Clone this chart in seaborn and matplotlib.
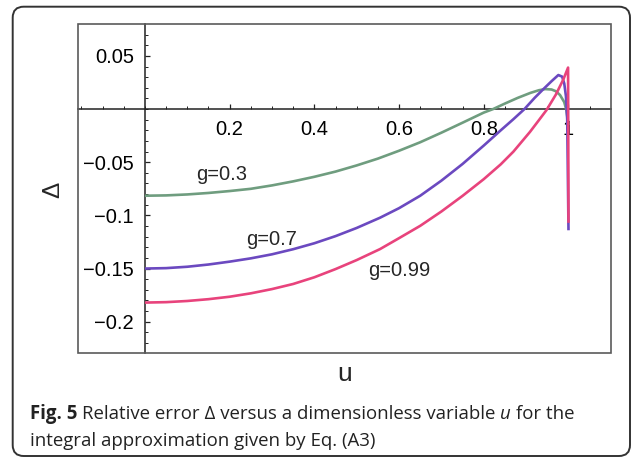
import numpy as np
import pandas as pd
import seaborn as sns
import matplotlib
matplotlib.use("Agg")
import matplotlib.pyplot as plt
from matplotlib.patches import Rectangle, FancyBboxPatch
from matplotlib.transforms import IdentityTransform
from matplotlib.ticker import FixedLocator

# ---------------- data ----------------
u_g03 = [0, 0.05, 0.1, 0.15, 0.2, 0.25, 0.3, 0.35, 0.4, 0.45, 0.5, 0.55, 0.6, 0.65,
         0.7, 0.75, 0.8, 0.822, 0.85, 0.88, 0.91, 0.93, 0.945, 0.96, 0.97, 0.98,
         0.99, 0.995, 1.0]
d_g03 = [-0.0815, -0.0812, -0.0803, -0.0789, -0.0771, -0.0750, -0.0718, -0.0680,
         -0.0637, -0.0588, -0.0530, -0.0466, -0.0392, -0.0312, -0.0222, -0.0128,
         -0.0033, 0.0, 0.0052, 0.0105, 0.0152, 0.0177, 0.0188, 0.0184, 0.0168,
         0.0132, 0.0065, -0.001, -0.015]

u_g07 = [0, 0.05, 0.1, 0.15, 0.2, 0.25, 0.3, 0.35, 0.4, 0.45, 0.5, 0.555, 0.6, 0.65,
         0.7, 0.75, 0.8, 0.84, 0.87, 0.896, 0.92, 0.94, 0.96, 0.976, 0.985, 0.99,
         0.994, 0.997, 1.0]
d_g07 = [-0.150, -0.1496, -0.1483, -0.1462, -0.1435, -0.1404, -0.1366, -0.1318,
         -0.1262, -0.1195, -0.1118, -0.1022, -0.0932, -0.0815, -0.0673, -0.0516,
         -0.0343, -0.0200, -0.0095, 0.0, 0.0105, 0.0185, 0.0262, 0.0320, 0.0305,
         0.0240, 0.0120, -0.010, -0.114]

u_g099 = [0, 0.05, 0.1, 0.15, 0.2, 0.25, 0.3, 0.35, 0.4, 0.45, 0.5, 0.555, 0.6, 0.65,
          0.7, 0.75, 0.8, 0.84, 0.87, 0.909, 0.93, 0.948, 0.97, 0.988, 0.999, 1.0]
d_g099 = [-0.182, -0.1816, -0.1805, -0.1788, -0.1765, -0.1733, -0.1693, -0.1645,
          -0.1582, -0.1505, -0.1420, -0.1317, -0.1214, -0.1098, -0.0963, -0.0816,
          -0.0659, -0.0520, -0.0400, -0.0215, -0.0105, -0.0010, 0.0135, 0.0280, 0.039,
          -0.107]

series_labels = ["g=0.3", "g=0.7", "g=0.99"]
label_pos_u = [0.18, 0.30, 0.60]
label_pos_d = [-0.0617, -0.1229, -0.1517]

x_major = [0.2, 0.4, 0.6, 0.8, 1.0]
x_major_labels = ["0.2", "0.4", "0.6", "0.8", "1"]
y_major = [0.05, -0.05, -0.1, -0.15, -0.2]
y_major_labels = ["0.05", "\u22120.05", "\u22120.1", "\u22120.15", "\u22120.2"]

caption_line1 = [("Fig. 5", "bold", "normal"),
                 (" Relative error \u0394 versus a dimensionless variable ", "normal", "normal"),
                 ("u", "normal", "italic"),
                 (" for the", "normal", "normal")]
caption_line2 = [("integral approximation given by Eq. (A3)", "normal", "normal")]

colors = ["#6f9d7f", "#6b49c0", "#e8437c"]

# ---------------- figure ----------------
sns.set_theme(style="white")
plt.rcParams["font.family"] = ["Liberation Sans", "DejaVu Sans"]

W, H = 637, 457
fig = plt.figure(figsize=(W / 100, H / 100), dpi=100)
fig.patch.set_facecolor("white")

# outer rounded caption box
box = FancyBboxPatch((12.7, H - 456.0), 630.0 - 12.7, 456.0 - 6.7,
                     boxstyle="round,pad=0,rounding_size=11",
                     transform=IdentityTransform(), facecolor="none",
                     edgecolor="#333333", linewidth=1.4, zorder=0)
fig.add_artist(box)

ax_l, ax_r, ax_t, ax_b = 78.0, 610.6, 24.0, 353.3
ax = fig.add_axes([ax_l / W, 1 - ax_b / H, (ax_r - ax_l) / W, (ax_b - ax_t) / H])
ax.set_facecolor("white")

frames = [(u_g03, d_g03), (u_g07, d_g07), (u_g099, d_g099)]
for (uu, dd), c in zip(frames, colors):
    df = pd.DataFrame({"u": uu, "d": dd})
    sns.lineplot(data=df, x="u", y="d", ax=ax, color=c, linewidth=1.9,
                 sort=False, estimator=None, zorder=3)
for line in ax.get_lines():
    line.set_solid_joinstyle("round")
    line.set_solid_capstyle("butt")

ax.set_xlim(-0.158, 1.0994)
ax.set_ylim(-0.2297, 0.0800)

# Mathematica-like axes through the origin
for side in ["top", "right"]:
    ax.spines[side].set_visible(False)
ax.spines["left"].set_position(("data", 0))
ax.spines["bottom"].set_position(("data", 0))
for side in ["left", "bottom"]:
    ax.spines[side].set_visible(True)
    ax.spines[side].set_color("#222222")
    ax.spines[side].set_linewidth(1.1)
    ax.spines[side].set_zorder(2.5)

# frame
ax.add_patch(Rectangle((0, 0), 1, 1, transform=ax.transAxes, fill=False,
                       edgecolor="#5a5a5a", linewidth=1.2, clip_on=False, zorder=4))

ax.xaxis.set_major_locator(FixedLocator(x_major))
ax.set_xticklabels(x_major_labels)
ax.xaxis.set_minor_locator(FixedLocator(list(np.round(np.arange(-0.15, 1.09, 0.05), 3))))
ax.yaxis.set_major_locator(FixedLocator(y_major))
ax.set_yticklabels(y_major_labels)
ax.yaxis.set_minor_locator(FixedLocator(list(np.round(np.arange(-0.22, 0.075, 0.01), 3))))

ax.tick_params(axis="both", which="both", bottom=True, left=True, top=False, right=False)
ax.tick_params(axis="both", which="major", direction="in", length=3.4, width=0.9,
               color="#222222", labelsize=14.5, labelcolor="black")
ax.tick_params(axis="both", which="minor", direction="in", length=2.0, width=0.7,
               color="#222222")
ax.tick_params(axis="x", which="major", pad=8.0)
ax.tick_params(axis="y", which="major", pad=8.0)
ax.set_xlabel("")
ax.set_ylabel("")
ax.grid(False)

# curve annotations
for lab, uu, dd in zip(series_labels, label_pos_u, label_pos_d):
    ax.text(uu, dd, lab, fontsize=14.5, ha="center", va="center", zorder=5)

# axis titles
ax.text(0.5, -0.064, "u", transform=ax.transAxes, fontsize=19, ha="center",
        va="center")
ax.text(-0.046, 0.497, "\u0394", transform=ax.transAxes, fontsize=17.5, ha="center",
        va="center", rotation=90)

# caption (mixed styles)
renderer = fig.canvas.get_renderer()
cap_font = ["Open Sans", "DejaVu Sans"]
cap_size = 13.4


def text_width(s, weight, style):
    t = fig.text(0, 0, s, fontsize=cap_size, family=cap_font, weight=weight, style=style)
    w = t.get_window_extent(renderer=renderer).width
    t.remove()
    return w


space_w = text_width("a a", "normal", "normal") - text_width("aa", "normal", "normal")


def draw_line(pieces, x0, y_base):
    x = x0
    for s, weight, style in pieces:
        lead = len(s) - len(s.lstrip(" "))
        trail = len(s) - len(s.rstrip(" "))
        core = s.strip(" ")
        x += lead * space_w
        t = fig.text(x / W, y_base / H, core, fontsize=cap_size, family=cap_font,
                     weight=weight, style=style, ha="left", va="baseline",
                     color="#222222", transform=fig.transFigure)
        x += t.get_window_extent(renderer=renderer).width
        x += trail * space_w


draw_line(caption_line1, 29.5, H - 419.0)
draw_line(caption_line2, 29.5, H - 446.0)

fig.savefig("out.png", dpi=100, facecolor="white")
